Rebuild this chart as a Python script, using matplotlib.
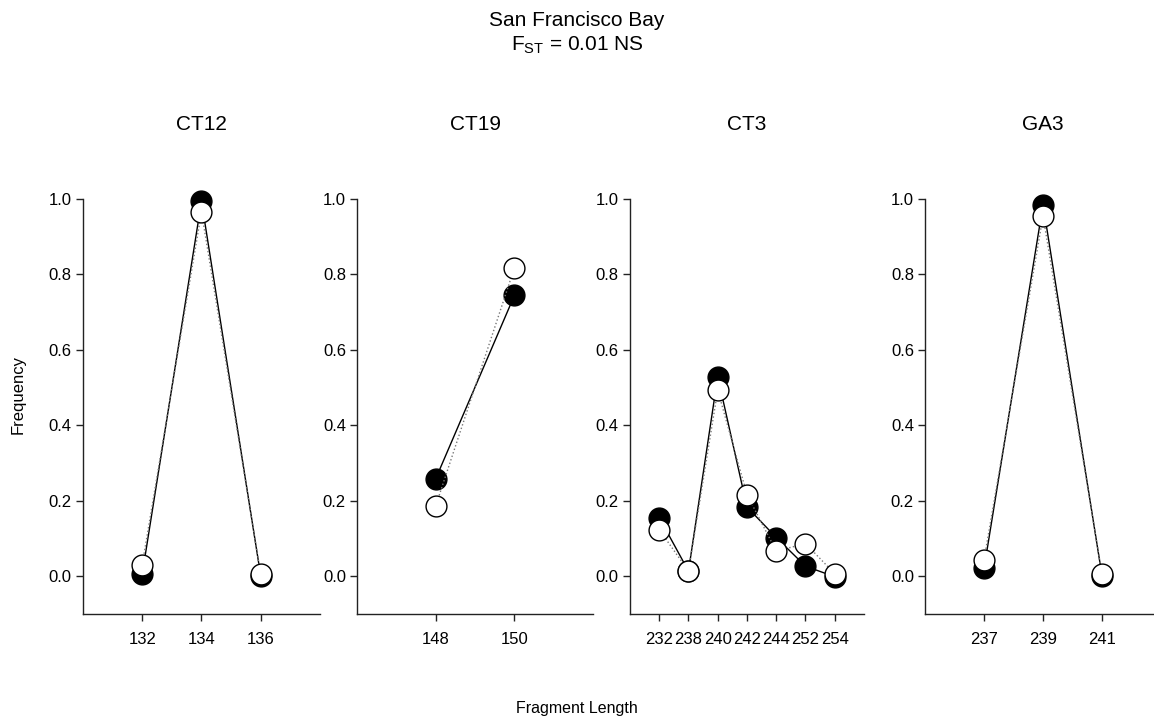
import matplotlib
matplotlib.use("Agg")
import matplotlib.pyplot as plt

plt.rcParams['font.family'] = ['Liberation Sans', 'DejaVu Sans']
plt.rcParams['mathtext.fontset'] = 'custom'
plt.rcParams['mathtext.rm'] = 'Liberation Sans'

# loci and allele frequencies (filled = sample 1, open = sample 2)
loci = ["CT12", "CT19", "CT3", "GA3"]

ct12_len = [132, 134, 136]
ct12_filled = [0.005, 0.994, 0.0]
ct12_open = [0.030, 0.966, 0.004]

ct19_len = [148, 150]
ct19_filled = [0.258, 0.744]
ct19_open = [0.186, 0.817]

ct3_len = ["232", "238", "240", "242", "244", "252", "254"]
ct3_filled = [0.155, 0.013, 0.529, 0.183, 0.102, 0.026, -0.002]
ct3_open = [0.123, 0.013, 0.493, 0.216, 0.066, 0.086, 0.006]

ga3_len = [237, 239, 241]
ga3_filled = [0.020, 0.985, 0.0]
ga3_open = [0.043, 0.955, 0.004]

fig = plt.figure(figsize=(11.54, 7.22), dpi=100)

# axes boxes in figure fractions
boxes = [
    [0.0719, 0.150, 0.2054, 0.5744],
    [0.3094, 0.150, 0.2045, 0.5744],
    [0.5459, 0.150, 0.2028, 0.5744],
    [0.8016, 0.150, 0.2045, 0.5744],
]

panels = [
    (ct12_len, ct12_filled, ct12_open, (130, 138), ct12_len, None),
    (ct19_len, ct19_filled, ct19_open, (146, 152), ct19_len, None),
    (list(range(len(ct3_len))), ct3_filled, ct3_open, (-1, 7), list(range(len(ct3_len))), ct3_len),
    (ga3_len, ga3_filled, ga3_open, (235, 243), ga3_len, None),
]

for box, name, (x, f, o, xl, ticks, labels) in zip(boxes, loci, panels):
    ax = fig.add_axes(box)
    ax.plot(x, f, color='black', lw=1.0, marker='o', ms=15,
            mfc='black', mec='black', mew=1.0, clip_on=False, zorder=3)
    ax.plot(x, o, color='#777777', lw=1.0, ls=':', marker='o', ms=15,
            mfc='white', mec='black', mew=1.0, clip_on=False, zorder=4)
    ax.set_xlim(*xl)
    ax.set_ylim(-0.1, 1.0)
    ax.set_yticks([0.0, 0.2, 0.4, 0.6, 0.8, 1.0])
    ax.set_yticklabels(["0.0", "0.2", "0.4", "0.6", "0.8", "1.0"])
    ax.set_xticks(ticks)
    if labels is not None:
        ax.set_xticklabels(labels)
    for s in ['top', 'right']:
        ax.spines[s].set_visible(False)
    for s in ['left', 'bottom']:
        ax.spines[s].set_color('#222222')
        ax.spines[s].set_linewidth(1.0)
    ax.tick_params(direction='out', length=5, width=1.0, color='#222222',
                   labelsize=12)
    ax.tick_params(axis='y', pad=3)
    ax.tick_params(axis='x', pad=8)
    ax.set_title(name, fontsize=15, pad=50)

fig.text(0.5, 0.972, "San Francisco Bay", ha='center', va='center', fontsize=15)
fig.text(0.5, 0.937, r"F$_{\mathrm{ST}}$ = 0.01 NS", ha='center', va='center', fontsize=15)
fig.text(0.016, 0.453, "Frequency", rotation=90, ha='center', va='center', fontsize=12)
fig.text(0.5, 0.019, "Fragment Length", ha='center', va='center', fontsize=11.5)

fig.savefig("out.png", dpi=100)
